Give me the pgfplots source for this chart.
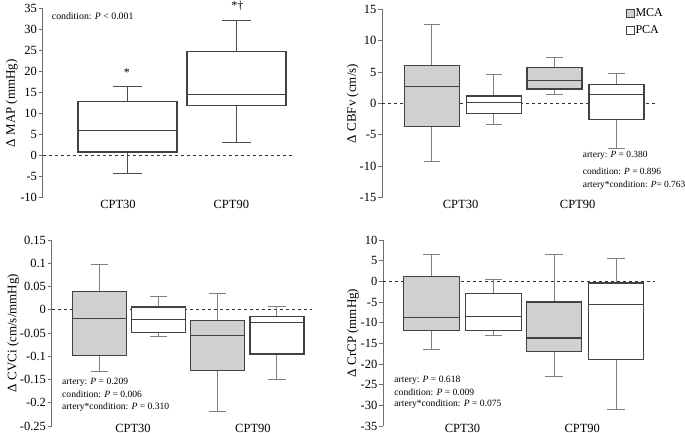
\documentclass[border=0pt]{standalone}
\usepackage{fontspec}
\setmainfont{Liberation Serif}
\usepackage{pgfplots}
\pgfplotsset{compat=1.18}
\usepgfplotslibrary{statistics}

\definecolor{mcafill}{RGB}{208,208,208}
\definecolor{boxline}{RGB}{66,66,66}
\definecolor{whisk}{RGB}{128,128,128}
\definecolor{axisgray}{RGB}{110,110,110}

\tikzset{
  zero/.style={black!80, line width=0.9pt, dash pattern=on 3pt off 3pt},
  note/.style={anchor=west, inner sep=0pt, font=\fontsize{9.6}{12}\selectfont},
}
\pgfplotsset{
  panel/.style={
    scale only axis, clip=false,
    axis y line*=left, axis x line*=bottom,
    x axis line style={draw=none},
    y axis line style={axisgray, line width=0.9pt},
    xtick style={draw=none},
    ytick style={axisgray, line width=0.9pt},
    tick align=outside,
    major tick length=4pt,
    minor tick num=0,
    ticklabel style={font=\fontsize{12.5}{14}\selectfont},
    /pgf/number format/assume math mode=true,
    label style={font=\fontsize{13}{15}\selectfont},
    ylabel style={at={(rel axis cs:0,0.5)}, anchor=center},
    yticklabel style={inner sep=1.5pt},
    xticklabel style={inner sep=0pt},
    boxplot/draw direction=y,
  },
  bx/.style={solid, line width=1.2pt, draw=boxline,
    boxplot/every whisker/.style={draw=whisk, line width=1pt},
    boxplot/every median/.style={draw=boxline, line width=1.1pt}},
  mca/.style={bx, boxplot/every box/.style={fill=mcafill}},
  pca/.style={bx, boxplot/every box/.style={fill=white}},
}

\begin{document}
\begin{tikzpicture}
\useasboundingbox (0,0) rectangle (685pt,432pt);

% ---- MAP ----
\begin{axis}[panel,
  at={(42.7pt,234.3pt)}, anchor=south west,
  width=250.3pt, height=189pt,
  xmin=0.222, xmax=2.518, ymin=-10, ymax=35,
  ytick={-10,-5,...,35},
  xtick={0.913,1.952}, xticklabels={CPT30,CPT90},
  xticklabel style={yshift=2pt},
  ylabel={Δ MAP (mmHg)}, ylabel style={yshift=31pt},
]
\addplot[zero] coordinates {(0.222,0) (2.518,0)};
\addplot[pca, boxplot/every whisker/.style={draw=black!70, line width=1pt},
  boxplot prepared={draw position=1, lower whisker=-4.3, lower quartile=0.9,
  median=6.1, upper quartile=13.0, upper whisker=16.5,
  box extend=0.908, whisker extend=0.263}] coordinates {};
\addplot[pca, boxplot/every whisker/.style={draw=black!70, line width=1pt},
  boxplot prepared={draw position=2, lower whisker=3.2, lower quartile=12.0,
  median=14.5, upper quartile=24.8, upper whisker=32.2,
  box extend=0.908, whisker extend=0.263}] coordinates {};
\node[note, font=\fontsize{9.8}{12}\selectfont] at (axis cs:0.305,33.33) {condition: \textit{P} < 0.001};
\node[anchor=north, inner sep=0pt, font=\fontsize{12}{14}\selectfont] at (axis cs:0.993,20.8) {*};
\node[anchor=north, inner sep=0pt, font=\fontsize{12}{14}\selectfont] at (axis cs:2.007,36.9) {*†};
\end{axis}

% ---- CBFv ----
\begin{axis}[panel,
  at={(382pt,234.3pt)}, anchor=south west,
  width=273pt, height=188.4pt,
  xmin=0.339, xmax=2.567, ymin=-15, ymax=15,
  ytick={-15,-10,...,15},
  xtick={0.98,1.936}, xticklabels={CPT30,CPT90},
  xticklabel style={yshift=2pt},
  ylabel={Δ CBFv (cm/s)}, ylabel style={yshift=29.3pt},
  legend style={at={(axis cs:2.33,15.3)}, anchor=north west, draw=none, fill=none,
    inner sep=0pt, row sep=5.5pt, font=\fontsize{12}{14}\selectfont,
    nodes={inner sep=1pt}},
  legend cell align=left,
]
\addlegendimage{legend image code/.code={\draw[boxline, fill=mcafill, line width=0.8pt] (0pt,-3.8pt) rectangle (7.6pt,3.8pt);}}
\addlegendentry{MCA}
\addlegendimage{legend image code/.code={\draw[boxline, fill=white, line width=0.8pt] (0pt,-3.8pt) rectangle (7.6pt,3.8pt);}}
\addlegendentry{PCA}
\addplot[zero, forget plot] coordinates {(0.339,0) (2.567,0)};
\addplot[mca, forget plot, boxplot prepared={draw position=0.747, lower whisker=-9.2, lower quartile=-3.7,
  median=2.7, upper quartile=6.0, upper whisker=12.6, box extend=0.449, whisker extend=0.136}] coordinates {};
\addplot[pca, forget plot, boxplot prepared={draw position=1.253, lower whisker=-3.4, lower quartile=-1.6,
  median=0.1, upper quartile=1.2, upper whisker=4.6, box extend=0.449, whisker extend=0.136}] coordinates {};
\addplot[mca, forget plot, boxplot prepared={draw position=1.747, lower whisker=1.5, lower quartile=2.3,
  median=3.6, upper quartile=5.7, upper whisker=7.4, box extend=0.449, whisker extend=0.136}] coordinates {};
\addplot[pca, forget plot, boxplot prepared={draw position=2.253, lower whisker=-7.1, lower quartile=-2.6,
  median=1.4, upper quartile=3.0, upper whisker=4.8, box extend=0.449, whisker extend=0.136}] coordinates {};
\node[note, font=\fontsize{9.4}{12}\selectfont] at (axis cs:1.977,-8.25) {artery: \textit{P} = 0.380};
\node[note, font=\fontsize{9.4}{12}\selectfont] at (axis cs:1.977,-10.75) {condition: \textit{P} = 0.896};
\node[note, font=\fontsize{9.4}{12}\selectfont] at (axis cs:1.977,-13.03) {artery*condition: \textit{P}= 0.763};
\end{axis}

% ---- CVCi ----
\begin{axis}[panel,
  at={(51.7pt,6pt)}, anchor=south west,
  width=260.3pt, height=186pt,
  xmin=0.346, xmax=2.546, ymin=-0.25, ymax=0.15,
  ytick={-0.25,-0.2,-0.15,-0.1,-0.05,0,0.05,0.1,0.15},
  yticklabel style={/pgf/number format/fixed, /pgf/number format/precision=2},
  xtick={1.033,2.047}, xticklabels={CPT30,CPT90},
  xticklabel style={yshift=6.5pt},
  ylabel={Δ CVCi (cm/s/mmHg)}, ylabel style={yshift=38.4pt},
]
\addplot[zero] coordinates {(0.346,0) (2.546,0)};
\addplot[mca, boxplot prepared={draw position=0.751, lower whisker=-0.133, lower quartile=-0.099,
  median=-0.019, upper quartile=0.040, upper whisker=0.097, box extend=0.456, whisker extend=0.146}] coordinates {};
\addplot[pca, boxplot prepared={draw position=1.249, lower whisker=-0.057, lower quartile=-0.049,
  median=-0.021, upper quartile=0.006, upper whisker=0.028, box extend=0.456, whisker extend=0.146}] coordinates {};
\addplot[mca, boxplot prepared={draw position=1.750, lower whisker=-0.219, lower quartile=-0.131,
  median=-0.056, upper quartile=-0.023, upper whisker=0.035, box extend=0.456, whisker extend=0.146}] coordinates {};
\addplot[pca, boxplot prepared={draw position=2.250, lower whisker=-0.151, lower quartile=-0.095,
  median=-0.027, upper quartile=-0.014, upper whisker=0.008, box extend=0.456, whisker extend=0.146}] coordinates {};
\node[note] at (axis cs:0.433,-0.1554) {artery: \textit{P} = 0.209};
\node[note] at (axis cs:0.433,-0.1818) {condition: \textit{P} = 0.006};
\node[note] at (axis cs:0.433,-0.2085) {artery*condition: \textit{P} = 0.310};
\end{axis}

% ---- CrCP ----
\begin{axis}[panel,
  at={(383pt,6pt)}, anchor=south west,
  width=272pt, height=186pt,
  xmin=0.351, xmax=2.571, ymin=-35, ymax=10,
  ytick={-35,-30,...,10},
  xtick={1.0,1.977}, xticklabels={CPT30,CPT90},
  xticklabel style={yshift=6.5pt},
  ylabel={Δ CrCP (mmHg)}, ylabel style={yshift=30pt},
]
\addplot[zero] coordinates {(0.351,0) (2.571,0)};
\addplot[mca, boxplot prepared={draw position=0.747, lower whisker=-16.4, lower quartile=-11.8,
  median=-8.8, upper quartile=1.1, upper whisker=6.5, box extend=0.453, whisker extend=0.14}] coordinates {};
\addplot[pca, boxplot prepared={draw position=1.253, lower whisker=-13.1, lower quartile=-11.8,
  median=-8.5, upper quartile=-3.0, upper whisker=0.5, box extend=0.453, whisker extend=0.14}] coordinates {};
\addplot[mca, boxplot prepared={draw position=1.747, lower whisker=-23.1, lower quartile=-17.0,
  median=-13.7, upper quartile=-5.0, upper whisker=6.5, box extend=0.453, whisker extend=0.14}] coordinates {};
\addplot[pca, boxplot prepared={draw position=2.253, lower whisker=-31.1, lower quartile=-19.0,
  median=-5.7, upper quartile=-0.4, upper whisker=5.5, box extend=0.453, whisker extend=0.14}] coordinates {};
\node[note] at (axis cs:0.443,-23.95) {artery: \textit{P} = 0.618};
\node[note] at (axis cs:0.443,-26.78) {condition: \textit{P} = 0.009};
\node[note] at (axis cs:0.443,-29.75) {artery*condition: \textit{P} = 0.075};
\end{axis}
\end{tikzpicture}
\end{document}
